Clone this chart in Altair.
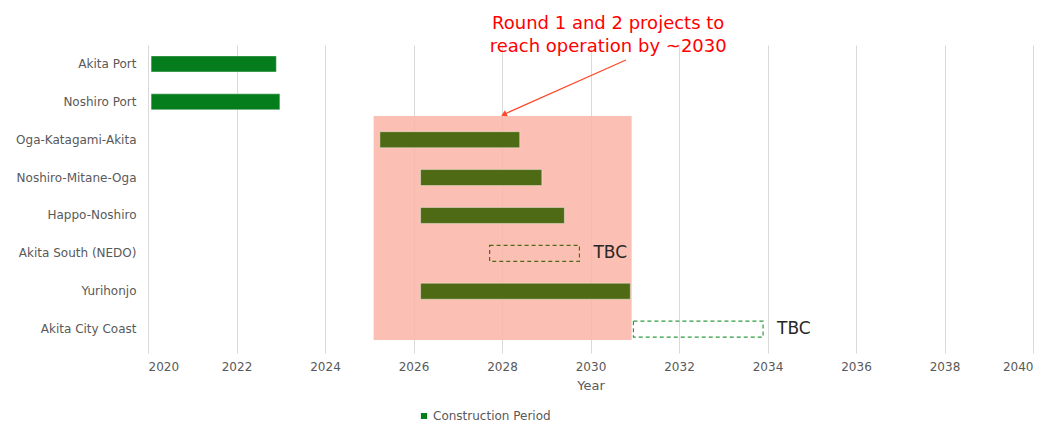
import altair as alt
import pandas as pd

projects = ["Akita Port", "Noshiro Port", "Oga-Katagami-Akita", "Noshiro-Mitane-Oga",
            "Happo-Noshiro", "Akita South (NEDO)", "Yurihonjo", "Akita City Coast"]
starts = [2020.07, 2020.07, 2025.24, 2026.16, 2026.16, 2027.72, 2026.16, 2030.97]
ends = [2022.9, 2022.98, 2028.4, 2028.9, 2029.41, 2029.75, 2030.9, 2033.9]
kind = ["Construction Period", "Construction Period", "Round", "Round", "Round",
        "TBC", "Round", "TBC"]
dash_colors = ["", "", "", "", "", "#4f6a14", "", "#2e9a3e"]

box_start, box_end = 2025.1, 2030.93
arrow_from, arrow_to = 2030.8, 2028.06

df = pd.DataFrame({"project": projects, "start": starts, "end": ends, "kind": kind,
                   "dash": dash_colors})
solid = df[df.kind != "TBC"]
tbc = df[df.kind == "TBC"]

FONT = "DejaVu Sans"
ysort = projects

x_scale = alt.Scale(domain=[2020, 2040], nice=False, zero=False)
x_axis = alt.Axis(values=list(range(2020, 2041, 2)), format="d", title="Year",
                  grid=True, gridColor="#d9d9d9", domain=False, ticks=True,
                  tickColor="#d9d9d9", tickSize=5, labelColor="#595959",
                  labelFont=FONT, labelFontSize=12, labelPadding=8,
                  titleColor="#595959", titleFont=FONT, titleFontSize=13,
                  titleFontWeight="normal", titlePadding=7)
y_axis = alt.Axis(title=None, domain=False, ticks=False, grid=False,
                  labelColor="#595959", labelFont=FONT, labelFontSize=12, labelPadding=12)

box = alt.Chart(pd.DataFrame({"s": [box_start], "e": [box_end]})).mark_rect(
    color="#fcb4a6", opacity=0.85
).encode(
    x=alt.X("s:Q", scale=x_scale, axis=x_axis),
    x2="e:Q",
    y=alt.value(71),
    y2=alt.value(295),
)

bars = alt.Chart(solid).mark_bar(size=16, stroke="#ffffff", strokeOpacity=0.4,
                                 strokeWidth=1).encode(
    x=alt.X("start:Q", scale=x_scale, axis=x_axis),
    x2="end:Q",
    y=alt.Y("project:N", sort=ysort, axis=y_axis,
            scale=alt.Scale(domain=ysort, paddingInner=0.58, paddingOuter=0.29)),
    color=alt.Color("kind:N",
                    scale=alt.Scale(domain=["Construction Period", "Round"],
                                    range=["#067d1c", "#4f6a14"]),
                    legend=alt.Legend(values=["Construction Period"], title=None,
                                      orient="none", legendX=270, legendY=365,
                                      symbolType="square", symbolSize=60,
                                      labelFont=FONT, labelFontSize=12,
                                      labelColor="#595959", symbolOffset=0,
                                      labelOffset=3)),
)

dashed = alt.Chart(tbc).mark_bar(size=16, fillOpacity=0, strokeDash=[4, 3],
                                 strokeWidth=1.2).encode(
    x=alt.X("start:Q", scale=x_scale),
    x2="end:Q",
    y=alt.Y("project:N", sort=ysort),
    stroke=alt.Stroke("dash:N", scale=None),
)

tbc_text = alt.Chart(tbc).mark_text(align="left", baseline="middle", dx=14,
                                    fontSize=17, font=FONT, color="#262626").encode(
    x=alt.X("end:Q", scale=x_scale),
    y=alt.Y("project:N", sort=ysort),
    text=alt.value("TBC"),
)

note_lines = ["Round 1 and 2 projects to", "reach operation by ~2030"]
note = alt.Chart(pd.DataFrame({"x": [2030.4, 2030.4], "t": note_lines,
                               "yy": [-21, 2]})).mark_text(
    align="center", baseline="middle", fontSize=18, font=FONT, color="#ff0000"
).encode(
    x=alt.X("x:Q", scale=x_scale),
    y=alt.Y("yy:Q", scale=None),
    text="t:N",
)

arrow_line = alt.Chart(pd.DataFrame({"a": [arrow_from], "b": [arrow_to]})).mark_rule(
    color="#ff4a2a", strokeWidth=1.3
).encode(
    x=alt.X("a:Q", scale=x_scale),
    x2="b:Q",
    y=alt.value(15),
    y2=alt.value(69),
)

arrow_head = alt.Chart(pd.DataFrame({"b": [arrow_to]})).mark_point(
    shape="triangle", filled=True, color="#ff4a2a", size=45, angle=245, opacity=1
).encode(
    x=alt.X("b:Q", scale=x_scale),
    y=alt.value(69),
)

chart = alt.layer(box, bars, dashed, tbc_text, note, arrow_line, arrow_head).properties(
    width=885, height=303,
    autosize=alt.AutoSizeParams(type="none"),
    padding={"left": 140, "top": 37, "right": 5, "bottom": 76},
).configure(background="#ffffff").configure_view(stroke=None)

chart.save("out.html", embed_options={"renderer": "svg", "actions": False})
